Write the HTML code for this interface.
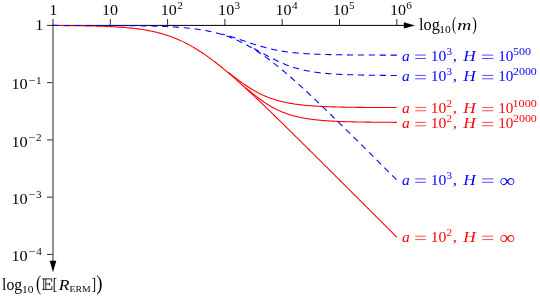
<!DOCTYPE html>
<html><head><meta charset="utf-8"><style>
html,body{margin:0;padding:0;background:#fff;}
body{width:540px;height:298px;overflow:hidden;position:relative;font-family:"Liberation Serif",serif;}
svg{position:absolute;left:0;top:0;}
text{font-family:"Liberation Serif",serif;}
</style></head><body>
<svg width="540" height="298" viewBox="0 0 540 298">
<rect x="52" y="19" width="2" height="243" fill="#929292"/>
<line x1="52" y1="25.4" x2="405" y2="25.4" stroke="#000" stroke-width="1"/>
<line x1="110.30" y1="19" x2="110.30" y2="25.4" stroke="#111" stroke-width="0.9"/><line x1="167.60" y1="19" x2="167.60" y2="25.4" stroke="#111" stroke-width="0.9"/><line x1="224.90" y1="19" x2="224.90" y2="25.4" stroke="#111" stroke-width="0.9"/><line x1="282.20" y1="19" x2="282.20" y2="25.4" stroke="#111" stroke-width="0.9"/><line x1="339.50" y1="19" x2="339.50" y2="25.4" stroke="#111" stroke-width="0.9"/><line x1="396.80" y1="19" x2="396.80" y2="25.4" stroke="#111" stroke-width="0.9"/><line x1="47.1" y1="25.40" x2="52.5" y2="25.40" stroke="#111" stroke-width="0.9"/><line x1="47.1" y1="82.65" x2="52.5" y2="82.65" stroke="#111" stroke-width="0.9"/><line x1="47.1" y1="139.90" x2="52.5" y2="139.90" stroke="#111" stroke-width="0.9"/><line x1="47.1" y1="197.15" x2="52.5" y2="197.15" stroke="#111" stroke-width="0.9"/><line x1="47.1" y1="254.40" x2="52.5" y2="254.40" stroke="#111" stroke-width="0.9"/>
<polygon points="403.8,22.299999999999997 415,25.4 403.8,28.5" fill="#000"/>
<polygon points="49.7,260.8 56.3,260.8 53,272.2" fill="#000"/>
<path d="M53.00 25.52 L54.57 25.53 L56.14 25.54 L57.71 25.55 L59.28 25.56 L60.85 25.57 L62.42 25.58 L63.99 25.59 L65.56 25.61 L67.13 25.62 L68.70 25.63 L70.27 25.65 L71.84 25.66 L73.41 25.68 L74.98 25.70 L76.55 25.72 L78.12 25.74 L79.69 25.76 L81.26 25.78 L82.83 25.81 L84.40 25.84 L85.97 25.86 L87.54 25.89 L89.11 25.92 L90.68 25.96 L92.25 25.99 L93.82 26.03 L95.39 26.07 L96.96 26.12 L98.53 26.16 L100.10 26.21 L101.67 26.26 L103.24 26.32 L104.81 26.38 L106.38 26.44 L107.95 26.51 L109.52 26.58 L111.08 26.65 L112.65 26.73 L114.22 26.81 L115.79 26.90 L117.36 27.00 L118.93 27.10 L120.50 27.21 L122.07 27.32 L123.64 27.44 L125.21 27.57 L126.78 27.70 L128.35 27.84 L129.92 27.99 L131.49 28.15 L133.06 28.32 L134.63 28.50 L136.20 28.69 L137.77 28.89 L139.34 29.10 L140.91 29.33 L142.48 29.56 L144.05 29.81 L145.62 30.07 L147.19 30.35 L148.76 30.64 L150.33 30.94 L151.90 31.27 L153.47 31.60 L155.04 31.96 L156.61 32.33 L158.18 32.72 L159.75 33.13 L161.32 33.56 L162.89 34.01 L164.46 34.48 L166.03 34.97 L167.60 35.48 L169.17 36.02 L170.74 36.57 L172.31 37.15 L173.88 37.75 L175.45 38.38 L177.02 39.03 L178.59 39.70 L180.16 40.40 L181.73 41.12 L183.30 41.87 L184.87 42.64 L186.44 43.44 L188.01 44.26 L189.58 45.11 L191.15 45.98 L192.72 46.87 L194.29 47.79 L195.86 48.74 L197.43 49.70 L199.00 50.69 L200.57 51.71 L202.14 52.74 L203.71 53.80 L205.28 54.88 L206.85 55.98 L208.42 57.10 L209.99 58.24 L211.56 59.40 L213.13 60.57 L214.70 61.77 L216.27 62.98 L217.84 64.22 L219.41 65.46 L220.98 66.73 L222.55 68.00 L224.12 69.30 L225.68 70.60 L227.25 71.92 L228.82 73.26 L230.39 74.60 L231.96 75.96 L233.53 77.33 L235.10 78.71 L236.67 80.10 L238.24 81.50 L239.81 82.91 L241.38 84.33 L242.95 85.75 L244.52 87.19 L246.09 88.63 L247.66 90.08 L249.23 91.53 L250.80 92.99 L252.37 94.46 L253.94 95.93 L255.51 97.41 L257.08 98.90 L258.65 100.39 L260.22 101.88 L261.79 103.38 L263.36 104.88 L264.93 106.39 L266.50 107.90 L268.07 109.41 L269.64 110.93 L271.21 112.45 L272.78 113.97 L274.35 115.50 L275.92 117.02 L277.49 118.55 L279.06 120.09 L280.63 121.62 L282.20 123.16 L283.77 124.70 L285.34 126.24 L286.91 127.78 L288.48 129.32 L290.05 130.87 L291.62 132.42 L293.19 133.96 L294.76 135.51 L296.33 137.06 L297.90 138.61 L299.47 140.17 L301.04 141.72 L302.61 143.27 L304.18 144.83 L305.75 146.39 L307.32 147.94 L308.89 149.50 L310.46 151.06 L312.03 152.62 L313.60 154.18 L315.17 155.74 L316.74 157.30 L318.31 158.86 L319.88 160.42 L321.45 161.98 L323.02 163.54 L324.59 165.11 L326.16 166.67 L327.73 168.23 L329.30 169.80 L330.87 171.36 L332.44 172.92 L334.01 174.49 L335.58 176.05 L337.15 177.62 L338.72 179.18 L340.28 180.75 L341.85 182.31 L343.42 183.88 L344.99 185.45 L346.56 187.01 L348.13 188.58 L349.70 190.14 L351.27 191.71 L352.84 193.28 L354.41 194.84 L355.98 196.41 L357.55 197.98 L359.12 199.54 L360.69 201.11 L362.26 202.68 L363.83 204.25 L365.40 205.81 L366.97 207.38 L368.54 208.95 L370.11 210.52 L371.68 212.08 L373.25 213.65 L374.82 215.22 L376.39 216.79 L377.96 218.35 L379.53 219.92 L381.10 221.49 L382.67 223.06 L384.24 224.63 L385.81 226.19 L387.38 227.76 L388.95 229.33 L390.52 230.90 L392.09 232.47 L393.66 234.03 L395.23 235.60 L396.80 237.17" fill="none" stroke="#ff0000" stroke-width="1.08"/><path d="M228.28 72.30 L229.05 72.90 L229.82 73.51 L230.59 74.11 L231.36 74.71 L232.13 75.31 L232.90 75.91 L233.67 76.50 L234.44 77.10 L235.21 77.69 L235.98 78.27 L236.75 78.86 L237.52 79.44 L238.29 80.01 L239.05 80.58 L239.82 81.15 L240.59 81.71 L241.36 82.27 L242.13 82.82 L242.90 83.37 L243.67 83.91 L244.44 84.44 L245.21 84.97 L245.98 85.49 L246.75 86.01 L247.52 86.52 L248.29 87.02 L249.06 87.52 L249.83 88.00 L250.60 88.48 L251.37 88.96 L252.14 89.42 L252.91 89.88 L253.67 90.33 L254.44 90.78 L255.21 91.21 L255.98 91.64 L256.75 92.06 L257.52 92.47 L258.29 92.87 L259.06 93.27 L259.83 93.65 L260.60 94.03 L261.37 94.40 L262.14 94.77 L262.91 95.12 L263.68 95.47 L264.45 95.81 L265.22 96.14 L265.99 96.46 L266.76 96.78 L267.53 97.09 L268.30 97.39 L269.06 97.68 L269.83 97.97 L270.60 98.25 L271.37 98.52 L272.14 98.79 L272.91 99.05 L273.68 99.30 L274.45 99.54 L275.22 99.78 L275.99 100.01 L276.76 100.24 L277.53 100.46 L278.30 100.67 L279.07 100.88 L279.84 101.08 L280.61 101.28 L281.38 101.47 L282.15 101.65 L282.92 101.83 L283.69 102.01 L284.45 102.18 L285.22 102.34 L285.99 102.50 L286.76 102.66 L287.53 102.81 L288.30 102.96 L289.07 103.10 L289.84 103.24 L290.61 103.37 L291.38 103.50 L292.15 103.63 L292.92 103.75 L293.69 103.87 L294.46 103.98 L295.23 104.10 L296.00 104.20 L296.77 104.31 L297.54 104.41 L298.31 104.51 L299.07 104.61 L299.84 104.70 L300.61 104.79 L301.38 104.88 L302.15 104.96 L302.92 105.04 L303.69 105.12 L304.46 105.20 L305.23 105.27 L306.00 105.35 L306.77 105.42 L307.54 105.48 L308.31 105.55 L309.08 105.61 L309.85 105.68 L310.62 105.74 L311.39 105.80 L312.16 105.85 L312.93 105.91 L313.70 105.96 L314.46 106.01 L315.23 106.06 L316.00 106.11 L316.77 106.16 L317.54 106.20 L318.31 106.25 L319.08 106.29 L319.85 106.33 L320.62 106.37 L321.39 106.41 L322.16 106.45 L322.93 106.48 L323.70 106.52 L324.47 106.55 L325.24 106.58 L326.01 106.62 L326.78 106.65 L327.55 106.68 L328.32 106.71 L329.08 106.74 L329.85 106.76 L330.62 106.79 L331.39 106.82 L332.16 106.84 L332.93 106.87 L333.70 106.89 L334.47 106.91 L335.24 106.93 L336.01 106.96 L336.78 106.98 L337.55 107.00 L338.32 107.02 L339.09 107.04 L339.86 107.05 L340.63 107.07 L341.40 107.09 L342.17 107.11 L342.94 107.12 L343.71 107.14 L344.47 107.15 L345.24 107.17 L346.01 107.18 L346.78 107.20 L347.55 107.21 L348.32 107.22 L349.09 107.23 L349.86 107.25 L350.63 107.26 L351.40 107.27 L352.17 107.28 L352.94 107.29 L353.71 107.30 L354.48 107.31 L355.25 107.32 L356.02 107.33 L356.79 107.34 L357.56 107.35 L358.33 107.36 L359.10 107.37 L359.86 107.38 L360.63 107.38 L361.40 107.39 L362.17 107.40 L362.94 107.41 L363.71 107.41 L364.48 107.42 L365.25 107.43 L366.02 107.43 L366.79 107.44 L367.56 107.44 L368.33 107.45 L369.10 107.46 L369.87 107.46 L370.64 107.47 L371.41 107.47 L372.18 107.48 L372.95 107.48 L373.72 107.49 L374.48 107.49 L375.25 107.50 L376.02 107.50 L376.79 107.50 L377.56 107.51 L378.33 107.51 L379.10 107.52 L379.87 107.52 L380.64 107.52 L381.41 107.53 L382.18 107.53 L382.95 107.53 L383.72 107.54 L384.49 107.54 L385.26 107.54 L386.03 107.54 L386.80 107.55 L387.57 107.55 L388.34 107.55 L389.11 107.56 L389.87 107.56 L390.64 107.56 L391.41 107.56 L392.18 107.56 L392.95 107.57 L393.72 107.57 L394.49 107.57 L395.26 107.57 L396.03 107.57 L396.80 107.58" fill="none" stroke="#ff0000" stroke-width="1.08"/><path d="M245.59 87.66 L246.28 88.25 L246.97 88.83 L247.66 89.42 L248.35 90.00 L249.04 90.57 L249.73 91.15 L250.43 91.72 L251.12 92.29 L251.81 92.85 L252.50 93.41 L253.19 93.97 L253.88 94.52 L254.57 95.07 L255.26 95.61 L255.95 96.15 L256.64 96.69 L257.33 97.22 L258.02 97.74 L258.71 98.26 L259.40 98.77 L260.09 99.28 L260.78 99.78 L261.47 100.28 L262.16 100.77 L262.85 101.25 L263.54 101.73 L264.23 102.20 L264.92 102.66 L265.62 103.12 L266.31 103.57 L267.00 104.01 L267.69 104.45 L268.38 104.88 L269.07 105.30 L269.76 105.72 L270.45 106.12 L271.14 106.53 L271.83 106.92 L272.52 107.31 L273.21 107.68 L273.90 108.06 L274.59 108.42 L275.28 108.78 L275.97 109.13 L276.66 109.47 L277.35 109.81 L278.04 110.14 L278.73 110.46 L279.42 110.78 L280.11 111.08 L280.80 111.38 L281.50 111.68 L282.19 111.97 L282.88 112.25 L283.57 112.52 L284.26 112.79 L284.95 113.05 L285.64 113.31 L286.33 113.56 L287.02 113.80 L287.71 114.04 L288.40 114.27 L289.09 114.49 L289.78 114.71 L290.47 114.93 L291.16 115.13 L291.85 115.34 L292.54 115.54 L293.23 115.73 L293.92 115.92 L294.61 116.10 L295.30 116.28 L295.99 116.45 L296.69 116.62 L297.38 116.78 L298.07 116.94 L298.76 117.09 L299.45 117.25 L300.14 117.39 L300.83 117.53 L301.52 117.67 L302.21 117.81 L302.90 117.94 L303.59 118.07 L304.28 118.19 L304.97 118.31 L305.66 118.43 L306.35 118.54 L307.04 118.65 L307.73 118.76 L308.42 118.86 L309.11 118.96 L309.80 119.06 L310.49 119.16 L311.18 119.25 L311.88 119.34 L312.57 119.43 L313.26 119.51 L313.95 119.60 L314.64 119.68 L315.33 119.76 L316.02 119.83 L316.71 119.91 L317.40 119.98 L318.09 120.05 L318.78 120.11 L319.47 120.18 L320.16 120.24 L320.85 120.31 L321.54 120.37 L322.23 120.42 L322.92 120.48 L323.61 120.54 L324.30 120.59 L324.99 120.64 L325.68 120.69 L326.37 120.74 L327.06 120.79 L327.76 120.84 L328.45 120.88 L329.14 120.93 L329.83 120.97 L330.52 121.01 L331.21 121.05 L331.90 121.09 L332.59 121.13 L333.28 121.16 L333.97 121.20 L334.66 121.23 L335.35 121.27 L336.04 121.30 L336.73 121.33 L337.42 121.36 L338.11 121.39 L338.80 121.42 L339.49 121.45 L340.18 121.48 L340.87 121.51 L341.56 121.53 L342.25 121.56 L342.95 121.58 L343.64 121.61 L344.33 121.63 L345.02 121.65 L345.71 121.67 L346.40 121.70 L347.09 121.72 L347.78 121.74 L348.47 121.76 L349.16 121.78 L349.85 121.79 L350.54 121.81 L351.23 121.83 L351.92 121.85 L352.61 121.86 L353.30 121.88 L353.99 121.90 L354.68 121.91 L355.37 121.93 L356.06 121.94 L356.75 121.95 L357.44 121.97 L358.13 121.98 L358.83 121.99 L359.52 122.01 L360.21 122.02 L360.90 122.03 L361.59 122.04 L362.28 122.05 L362.97 122.06 L363.66 122.07 L364.35 122.08 L365.04 122.09 L365.73 122.10 L366.42 122.11 L367.11 122.12 L367.80 122.13 L368.49 122.14 L369.18 122.15 L369.87 122.16 L370.56 122.16 L371.25 122.17 L371.94 122.18 L372.63 122.19 L373.32 122.19 L374.02 122.20 L374.71 122.21 L375.40 122.21 L376.09 122.22 L376.78 122.23 L377.47 122.23 L378.16 122.24 L378.85 122.24 L379.54 122.25 L380.23 122.26 L380.92 122.26 L381.61 122.27 L382.30 122.27 L382.99 122.28 L383.68 122.28 L384.37 122.28 L385.06 122.29 L385.75 122.29 L386.44 122.30 L387.13 122.30 L387.82 122.31 L388.51 122.31 L389.21 122.31 L389.90 122.32 L390.59 122.32 L391.28 122.32 L391.97 122.33 L392.66 122.33 L393.35 122.33 L394.04 122.34 L394.73 122.34 L395.42 122.34 L396.11 122.34 L396.80 122.35" fill="none" stroke="#ff0000" stroke-width="1.08"/><path d="M53.00 25.41 L54.57 25.41 L56.14 25.41 L57.71 25.42 L59.28 25.42 L60.85 25.42 L62.42 25.42 L63.99 25.42 L65.56 25.42 L67.13 25.42 L68.70 25.42 L70.27 25.42 L71.84 25.43 L73.41 25.43 L74.98 25.43 L76.55 25.43 L78.12 25.43 L79.69 25.44 L81.26 25.44 L82.83 25.44 L84.40 25.44 L85.97 25.45 L87.54 25.45 L89.11 25.45 L90.68 25.46 L92.25 25.46 L93.82 25.46 L95.39 25.47 L96.96 25.47 L98.53 25.48 L100.10 25.48 L101.67 25.49 L103.24 25.49 L104.81 25.50 L106.38 25.51 L107.95 25.51 L109.52 25.52 L111.08 25.53 L112.65 25.54 L114.22 25.55 L115.79 25.55 L117.36 25.56 L118.93 25.58 L120.50 25.59 L122.07 25.60 L123.64 25.61 L125.21 25.63 L126.78 25.64 L128.35 25.66 L129.92 25.67 L131.49 25.69 L133.06 25.71 L134.63 25.73 L136.20 25.75 L137.77 25.77 L139.34 25.80 L140.91 25.82 L142.48 25.85 L144.05 25.88 L145.62 25.91 L147.19 25.94 L148.76 25.98 L150.33 26.01 L151.90 26.05 L153.47 26.09 L155.04 26.14 L156.61 26.19 L158.18 26.24 L159.75 26.29 L161.32 26.35 L162.89 26.41 L164.46 26.47 L166.03 26.54 L167.60 26.61 L169.17 26.69 L170.74 26.77 L172.31 26.86 L173.88 26.95 L175.45 27.05 L177.02 27.15 L178.59 27.26 L180.16 27.38 L181.73 27.50 L183.30 27.63 L184.87 27.77 L186.44 27.92 L188.01 28.07 L189.58 28.24 L191.15 28.41 L192.72 28.60 L194.29 28.79 L195.86 29.00 L197.43 29.21 L199.00 29.44 L200.57 29.68 L202.14 29.94 L203.71 30.21 L205.28 30.49 L206.85 30.79 L208.42 31.10 L209.99 31.43 L211.56 31.78 L213.13 32.14 L214.70 32.52 L216.27 32.92 L217.84 33.34 L219.41 33.78 L220.98 34.24 L222.55 34.72 L224.12 35.22 L225.68 35.75 L227.25 36.29 L228.82 36.86 L230.39 37.45 L231.96 38.06 L233.53 38.70 L235.10 39.36 L236.67 40.05 L238.24 40.76 L239.81 41.49 L241.38 42.25 L242.95 43.04 L244.52 43.85 L246.09 44.68 L247.66 45.54 L249.23 46.42 L250.80 47.33 L252.37 48.26 L253.94 49.22 L255.51 50.20 L257.08 51.20 L258.65 52.22 L260.22 53.27 L261.79 54.33 L263.36 55.42 L264.93 56.53 L266.50 57.66 L268.07 58.81 L269.64 59.98 L271.21 61.17 L272.78 62.38 L274.35 63.60 L275.92 64.84 L277.49 66.09 L279.06 67.36 L280.63 68.65 L282.20 69.95 L283.77 71.26 L285.34 72.59 L286.91 73.93 L288.48 75.28 L290.05 76.64 L291.62 78.02 L293.19 79.40 L294.76 80.80 L296.33 82.20 L297.90 83.62 L299.47 85.04 L301.04 86.47 L302.61 87.91 L304.18 89.35 L305.75 90.80 L307.32 92.26 L308.89 93.73 L310.46 95.20 L312.03 96.67 L313.60 98.16 L315.17 99.64 L316.74 101.13 L318.31 102.63 L319.88 104.13 L321.45 105.63 L323.02 107.14 L324.59 108.65 L326.16 110.17 L327.73 111.69 L329.30 113.21 L330.87 114.73 L332.44 116.26 L334.01 117.79 L335.58 119.32 L337.15 120.85 L338.72 122.39 L340.28 123.93 L341.85 125.47 L343.42 127.01 L344.99 128.55 L346.56 130.10 L348.13 131.64 L349.70 133.19 L351.27 134.74 L352.84 136.29 L354.41 137.84 L355.98 139.39 L357.55 140.94 L359.12 142.50 L360.69 144.05 L362.26 145.61 L363.83 147.16 L365.40 148.72 L366.97 150.28 L368.54 151.84 L370.11 153.40 L371.68 154.96 L373.25 156.52 L374.82 158.08 L376.39 159.64 L377.96 161.20 L379.53 162.76 L381.10 164.32 L382.67 165.89 L384.24 167.45 L385.81 169.01 L387.38 170.58 L388.95 172.14 L390.52 173.71 L392.09 175.27 L393.66 176.84 L395.23 178.40 L396.80 179.97" fill="none" stroke="#0000ff" stroke-width="1.08" stroke-dasharray="6.23 4.67"/><path d="M396.80 55.13 L396.00 55.13 L395.20 55.13 L394.41 55.12 L393.61 55.12 L392.81 55.12 L392.01 55.12 L391.21 55.12 L390.41 55.12 L389.62 55.12 L388.82 55.11 L388.02 55.11 L387.22 55.11 L386.42 55.11 L385.62 55.11 L384.83 55.11 L384.03 55.10 L383.23 55.10 L382.43 55.10 L381.63 55.10 L380.83 55.10 L380.04 55.09 L379.24 55.09 L378.44 55.09 L377.64 55.09 L376.84 55.08 L376.04 55.08 L375.25 55.08 L374.45 55.08 L373.65 55.07 L372.85 55.07 L372.05 55.07 L371.26 55.06 L370.46 55.06 L369.66 55.06 L368.86 55.05 L368.06 55.05 L367.26 55.05 L366.47 55.04 L365.67 55.04 L364.87 55.03 L364.07 55.03 L363.27 55.03 L362.47 55.02 L361.68 55.02 L360.88 55.01 L360.08 55.01 L359.28 55.00 L358.48 55.00 L357.68 54.99 L356.89 54.99 L356.09 54.98 L355.29 54.97 L354.49 54.97 L353.69 54.96 L352.89 54.95 L352.10 54.95 L351.30 54.94 L350.50 54.93 L349.70 54.92 L348.90 54.92 L348.10 54.91 L347.31 54.90 L346.51 54.89 L345.71 54.88 L344.91 54.87 L344.11 54.86 L343.32 54.85 L342.52 54.84 L341.72 54.83 L340.92 54.82 L340.12 54.81 L339.32 54.80 L338.53 54.79 L337.73 54.77 L336.93 54.76 L336.13 54.75 L335.33 54.73 L334.53 54.72 L333.74 54.70 L332.94 54.69 L332.14 54.67 L331.34 54.65 L330.54 54.64 L329.74 54.62 L328.95 54.60 L328.15 54.58 L327.35 54.56 L326.55 54.54 L325.75 54.52 L324.95 54.50 L324.16 54.48 L323.36 54.45 L322.56 54.43 L321.76 54.40 L320.96 54.38 L320.17 54.35 L319.37 54.32 L318.57 54.30 L317.77 54.27 L316.97 54.24 L316.17 54.20 L315.38 54.17 L314.58 54.14 L313.78 54.10 L312.98 54.07 L312.18 54.03 L311.38 53.99 L310.59 53.95 L309.79 53.91 L308.99 53.86 L308.19 53.82 L307.39 53.77 L306.59 53.72 L305.80 53.68 L305.00 53.62 L304.20 53.57 L303.40 53.52 L302.60 53.46 L301.80 53.40 L301.01 53.34 L300.21 53.28 L299.41 53.21 L298.61 53.15 L297.81 53.08 L297.02 53.01 L296.22 52.93 L295.42 52.86 L294.62 52.78 L293.82 52.70 L293.02 52.61 L292.23 52.52 L291.43 52.43 L290.63 52.34 L289.83 52.25 L289.03 52.15 L288.23 52.05 L287.44 51.94 L286.64 51.83 L285.84 51.72 L285.04 51.61 L284.24 51.49 L283.44 51.37 L282.65 51.24 L281.85 51.11 L281.05 50.98 L280.25 50.84 L279.45 50.70 L278.65 50.56 L277.86 50.41 L277.06 50.26 L276.26 50.10 L275.46 49.95 L274.66 49.78 L273.86 49.61 L273.07 49.44 L272.27 49.27 L271.47 49.09 L270.67 48.90 L269.87 48.71 L269.08 48.52 L268.28 48.33 L267.48 48.13 L266.68 47.92 L265.88 47.71 L265.08 47.50 L264.29 47.29 L263.49 47.07 L262.69 46.85 L261.89 46.62 L261.09 46.39 L260.29 46.16 L259.50 45.92 L258.70 45.68 L257.90 45.44 L257.10 45.19 L256.30 44.95 L255.50 44.70 L254.71 44.44 L253.91 44.19 L253.11 43.93 L252.31 43.67 L251.51 43.41 L250.71 43.15 L249.92 42.88 L249.12 42.62 L248.32 42.35 L247.52 42.08 L246.72 41.81 L245.93 41.55 L245.13 41.28 L244.33 41.01 L243.53 40.74 L242.73 40.47 L241.93 40.20 L241.14 39.93 L240.34 39.66 L239.54 39.40 L238.74 39.13 L237.94 38.87 L237.14 38.60 L236.35 38.34 L235.55 38.08 L234.75 37.83 L233.95 37.57 L233.15 37.32 L232.35 37.06 L231.56 36.81 L230.76 36.57 L229.96 36.32 L229.16 36.08 L228.36 35.84 L227.56 35.61 L226.77 35.37 L225.97 35.14 L225.17 34.92 L224.37 34.69 L223.57 34.47 L222.78 34.26 L221.98 34.04" fill="none" stroke="#0000ff" stroke-width="1.08" stroke-dasharray="6.23 4.67"/><path d="M396.80 75.45 L396.13 75.45 L395.46 75.44 L394.80 75.44 L394.13 75.44 L393.46 75.43 L392.79 75.43 L392.12 75.42 L391.46 75.42 L390.79 75.42 L390.12 75.41 L389.45 75.41 L388.78 75.40 L388.12 75.40 L387.45 75.39 L386.78 75.39 L386.11 75.38 L385.45 75.38 L384.78 75.37 L384.11 75.37 L383.44 75.36 L382.77 75.36 L382.11 75.35 L381.44 75.35 L380.77 75.34 L380.10 75.33 L379.43 75.33 L378.77 75.32 L378.10 75.31 L377.43 75.31 L376.76 75.30 L376.09 75.29 L375.43 75.28 L374.76 75.28 L374.09 75.27 L373.42 75.26 L372.75 75.25 L372.09 75.24 L371.42 75.23 L370.75 75.22 L370.08 75.21 L369.41 75.20 L368.75 75.19 L368.08 75.18 L367.41 75.17 L366.74 75.16 L366.07 75.15 L365.41 75.14 L364.74 75.13 L364.07 75.12 L363.40 75.10 L362.74 75.09 L362.07 75.08 L361.40 75.06 L360.73 75.05 L360.06 75.03 L359.40 75.02 L358.73 75.00 L358.06 74.99 L357.39 74.97 L356.72 74.96 L356.06 74.94 L355.39 74.92 L354.72 74.90 L354.05 74.89 L353.38 74.87 L352.72 74.85 L352.05 74.83 L351.38 74.81 L350.71 74.78 L350.04 74.76 L349.38 74.74 L348.71 74.72 L348.04 74.69 L347.37 74.67 L346.70 74.64 L346.04 74.62 L345.37 74.59 L344.70 74.56 L344.03 74.54 L343.36 74.51 L342.70 74.48 L342.03 74.45 L341.36 74.42 L340.69 74.38 L340.03 74.35 L339.36 74.32 L338.69 74.28 L338.02 74.24 L337.35 74.21 L336.69 74.17 L336.02 74.13 L335.35 74.09 L334.68 74.05 L334.01 74.01 L333.35 73.96 L332.68 73.92 L332.01 73.87 L331.34 73.82 L330.67 73.77 L330.01 73.72 L329.34 73.67 L328.67 73.62 L328.00 73.56 L327.33 73.51 L326.67 73.45 L326.00 73.39 L325.33 73.33 L324.66 73.26 L323.99 73.20 L323.33 73.13 L322.66 73.06 L321.99 72.99 L321.32 72.92 L320.66 72.85 L319.99 72.77 L319.32 72.69 L318.65 72.61 L317.98 72.53 L317.32 72.44 L316.65 72.35 L315.98 72.26 L315.31 72.17 L314.64 72.07 L313.98 71.97 L313.31 71.87 L312.64 71.77 L311.97 71.66 L311.30 71.56 L310.64 71.44 L309.97 71.33 L309.30 71.21 L308.63 71.09 L307.96 70.96 L307.30 70.84 L306.63 70.71 L305.96 70.57 L305.29 70.43 L304.62 70.29 L303.96 70.15 L303.29 70.00 L302.62 69.85 L301.95 69.69 L301.28 69.53 L300.62 69.37 L299.95 69.20 L299.28 69.03 L298.61 68.85 L297.95 68.67 L297.28 68.49 L296.61 68.30 L295.94 68.10 L295.27 67.91 L294.61 67.71 L293.94 67.50 L293.27 67.29 L292.60 67.07 L291.93 66.86 L291.27 66.63 L290.60 66.40 L289.93 66.17 L289.26 65.93 L288.59 65.69 L287.93 65.44 L287.26 65.19 L286.59 64.94 L285.92 64.68 L285.25 64.41 L284.59 64.14 L283.92 63.87 L283.25 63.59 L282.58 63.31 L281.91 63.02 L281.25 62.73 L280.58 62.44 L279.91 62.14 L279.24 61.83 L278.58 61.52 L277.91 61.21 L277.24 60.90 L276.57 60.58 L275.90 60.26 L275.24 59.93 L274.57 59.60 L273.90 59.27 L273.23 58.93 L272.56 58.59 L271.90 58.25 L271.23 57.90 L270.56 57.56 L269.89 57.21 L269.22 56.85 L268.56 56.50 L267.89 56.14 L267.22 55.78 L266.55 55.42 L265.88 55.06 L265.22 54.70 L264.55 54.33 L263.88 53.96 L263.21 53.60 L262.54 53.23 L261.88 52.86 L261.21 52.49 L260.54 52.12 L259.87 51.75 L259.20 51.39 L258.54 51.02 L257.87 50.65 L257.20 50.28 L256.53 49.91 L255.87 49.55 L255.20 49.18 L254.53 48.82 L253.86 48.45 L253.19 48.09 L252.53 47.73 L251.86 47.37 L251.19 47.02 L250.52 46.66" fill="none" stroke="#0000ff" stroke-width="1.08" stroke-dasharray="6.23 4.67"/>
<g opacity="0.99"><text transform="translate(49.20,14.90) scale(1.040,1)" font-size="15.6" fill="#000">1</text><text transform="translate(101.91,14.90) scale(1.030,1)" font-size="15.6" fill="#000">10</text><text transform="translate(160.81,14.90) scale(1.030,1)" font-size="15.6" fill="#000">10</text><text transform="translate(177.15,9.20) scale(1.040,1)" font-size="10.8" fill="#000">2</text><text transform="translate(218.11,14.90) scale(1.030,1)" font-size="15.6" fill="#000">10</text><text transform="translate(234.45,9.20) scale(1.040,1)" font-size="10.8" fill="#000">3</text><text transform="translate(275.41,14.90) scale(1.030,1)" font-size="15.6" fill="#000">10</text><text transform="translate(292.09,9.20) scale(1.040,1)" font-size="10.8" fill="#000">4</text><text transform="translate(332.71,14.90) scale(1.030,1)" font-size="15.6" fill="#000">10</text><text transform="translate(348.94,9.20) scale(1.040,1)" font-size="10.8" fill="#000">5</text><text transform="translate(390.01,14.90) scale(1.030,1)" font-size="15.6" fill="#000">10</text><text transform="translate(406.35,9.20) scale(1.040,1)" font-size="10.8" fill="#000">6</text><text transform="translate(35.20,30.20) scale(1.040,1)" font-size="15.6" fill="#000">1</text><text transform="translate(11.40,89.25) scale(1.044,1)" font-size="15.6" fill="#000">10</text><text transform="translate(28.34,83.65) scale(1.160,1)" font-size="10.8" fill="#000">−</text><text transform="translate(36.00,83.65) scale(1.040,1)" font-size="10.8" fill="#000">1</text><text transform="translate(11.40,146.50) scale(1.044,1)" font-size="15.6" fill="#000">10</text><text transform="translate(28.34,140.90) scale(1.160,1)" font-size="10.8" fill="#000">−</text><text transform="translate(35.95,140.90) scale(1.040,1)" font-size="10.8" fill="#000">2</text><text transform="translate(11.40,203.75) scale(1.044,1)" font-size="15.6" fill="#000">10</text><text transform="translate(28.34,198.15) scale(1.160,1)" font-size="10.8" fill="#000">−</text><text transform="translate(35.95,198.15) scale(1.040,1)" font-size="10.8" fill="#000">3</text><text transform="translate(11.40,261.00) scale(1.044,1)" font-size="15.6" fill="#000">10</text><text transform="translate(28.34,255.40) scale(1.160,1)" font-size="10.8" fill="#000">−</text><text transform="translate(36.29,255.40) scale(1.040,1)" font-size="10.8" fill="#000">4</text><text transform="translate(419.07,29.60) scale(0.991,1)" font-size="16.5" fill="#000">log</text><text transform="translate(439.28,32.80) scale(1.061,1)" font-size="10.8" fill="#000">10</text><text transform="translate(451.90,30.20) scale(0.670,1)" font-size="18.8" fill="#000">(</text><text transform="translate(457.13,29.60) scale(1.250,1)" font-size="15.6" fill="#000" font-style="italic">m</text><text transform="translate(472.18,30.20) scale(0.736,1)" font-size="18.8" fill="#000">)</text><text transform="translate(2.09,289.50) scale(0.952,1)" font-size="16.5" fill="#000">log</text><text transform="translate(22.08,292.90) scale(1.061,1)" font-size="10.8" fill="#000">10</text><text transform="translate(35.98,290.30) scale(0.778,1)" font-size="20" fill="#000">(</text><text transform="translate(52.79,289.60) scale(0.791,1)" font-size="16.5" fill="#000">[</text><text transform="translate(58.78,289.50) scale(1.124,1)" font-size="15.6" fill="#000" font-style="italic">R</text><text transform="translate(69.60,291.90) scale(1.303,1)" font-size="7.5" fill="#000">ERM</text><text transform="translate(91.81,289.60) scale(0.791,1)" font-size="16.5" fill="#000">]</text><text transform="translate(96.23,290.30) scale(0.942,1)" font-size="20" fill="#000">)</text><text transform="translate(401.99,60.70) scale(0.997,1)" font-size="15.6" fill="#0000ff" font-style="italic">a</text><text transform="translate(430.74,60.70) scale(1.008,1)" font-size="15.6" fill="#0000ff">10</text><text transform="translate(446.45,55.10) scale(1.040,1)" font-size="10.8" fill="#0000ff">3</text><text transform="translate(452.79,60.70) scale(1.082,1)" font-size="15.6" fill="#0000ff">,</text><text transform="translate(463.35,60.70) scale(1.112,1)" font-size="15.6" fill="#0000ff" font-style="italic">H</text><text transform="translate(498.29,60.70) scale(0.972,1)" font-size="15.6" fill="#0000ff">10</text><text transform="translate(512.90,55.10) scale(1.115,1)" font-size="10.8" fill="#0000ff">500</text><text transform="translate(401.99,81.00) scale(0.997,1)" font-size="15.6" fill="#0000ff" font-style="italic">a</text><text transform="translate(430.74,81.00) scale(1.008,1)" font-size="15.6" fill="#0000ff">10</text><text transform="translate(446.45,75.40) scale(1.040,1)" font-size="10.8" fill="#0000ff">3</text><text transform="translate(452.79,81.00) scale(1.082,1)" font-size="15.6" fill="#0000ff">,</text><text transform="translate(463.35,81.00) scale(1.112,1)" font-size="15.6" fill="#0000ff" font-style="italic">H</text><text transform="translate(498.29,81.00) scale(0.972,1)" font-size="15.6" fill="#0000ff">10</text><text transform="translate(513.02,75.40) scale(1.103,1)" font-size="10.8" fill="#0000ff">2000</text><text transform="translate(401.99,184.50) scale(0.997,1)" font-size="15.6" fill="#0000ff" font-style="italic">a</text><text transform="translate(430.74,184.50) scale(1.008,1)" font-size="15.6" fill="#0000ff">10</text><text transform="translate(446.45,178.90) scale(1.040,1)" font-size="10.8" fill="#0000ff">3</text><text transform="translate(452.79,184.50) scale(1.082,1)" font-size="15.6" fill="#0000ff">,</text><text transform="translate(463.35,184.50) scale(1.112,1)" font-size="15.6" fill="#0000ff" font-style="italic">H</text><text transform="translate(499.23,186.50) scale(1.160,1)" font-size="19" fill="#0000ff">∞</text><text transform="translate(401.99,113.00) scale(0.997,1)" font-size="15.6" fill="#ff0000" font-style="italic">a</text><text transform="translate(430.74,113.00) scale(1.008,1)" font-size="15.6" fill="#ff0000">10</text><text transform="translate(446.45,107.40) scale(1.040,1)" font-size="10.8" fill="#ff0000">2</text><text transform="translate(452.79,113.00) scale(1.082,1)" font-size="15.6" fill="#ff0000">,</text><text transform="translate(463.35,113.00) scale(1.112,1)" font-size="15.6" fill="#ff0000" font-style="italic">H</text><text transform="translate(498.29,113.00) scale(0.972,1)" font-size="15.6" fill="#ff0000">10</text><text transform="translate(512.53,107.40) scale(1.127,1)" font-size="10.8" fill="#ff0000">1000</text><text transform="translate(401.99,128.00) scale(0.997,1)" font-size="15.6" fill="#ff0000" font-style="italic">a</text><text transform="translate(430.74,128.00) scale(1.008,1)" font-size="15.6" fill="#ff0000">10</text><text transform="translate(446.45,122.40) scale(1.040,1)" font-size="10.8" fill="#ff0000">2</text><text transform="translate(452.79,128.00) scale(1.082,1)" font-size="15.6" fill="#ff0000">,</text><text transform="translate(463.35,128.00) scale(1.112,1)" font-size="15.6" fill="#ff0000" font-style="italic">H</text><text transform="translate(498.29,128.00) scale(0.972,1)" font-size="15.6" fill="#ff0000">10</text><text transform="translate(513.02,122.40) scale(1.103,1)" font-size="10.8" fill="#ff0000">2000</text><text transform="translate(401.99,241.80) scale(0.997,1)" font-size="15.6" fill="#ff0000" font-style="italic">a</text><text transform="translate(430.74,241.80) scale(1.008,1)" font-size="15.6" fill="#ff0000">10</text><text transform="translate(446.45,236.20) scale(1.040,1)" font-size="10.8" fill="#ff0000">2</text><text transform="translate(452.79,241.80) scale(1.082,1)" font-size="15.6" fill="#ff0000">,</text><text transform="translate(463.35,241.80) scale(1.112,1)" font-size="15.6" fill="#ff0000" font-style="italic">H</text><text transform="translate(499.23,243.80) scale(1.160,1)" font-size="19" fill="#ff0000">∞</text><line x1="415.2" y1="58.50" x2="425.9" y2="58.50" stroke="#0000ff" stroke-width="0.7"/><line x1="415.2" y1="55.10" x2="425.9" y2="55.10" stroke="#0000ff" stroke-width="0.7"/><line x1="482.1" y1="58.50" x2="493.3" y2="58.50" stroke="#0000ff" stroke-width="0.7"/><line x1="482.1" y1="55.10" x2="493.3" y2="55.10" stroke="#0000ff" stroke-width="0.7"/><line x1="415.2" y1="78.80" x2="425.9" y2="78.80" stroke="#0000ff" stroke-width="0.7"/><line x1="415.2" y1="75.40" x2="425.9" y2="75.40" stroke="#0000ff" stroke-width="0.7"/><line x1="482.1" y1="78.80" x2="493.3" y2="78.80" stroke="#0000ff" stroke-width="0.7"/><line x1="482.1" y1="75.40" x2="493.3" y2="75.40" stroke="#0000ff" stroke-width="0.7"/><line x1="415.2" y1="182.30" x2="425.9" y2="182.30" stroke="#0000ff" stroke-width="0.7"/><line x1="415.2" y1="178.90" x2="425.9" y2="178.90" stroke="#0000ff" stroke-width="0.7"/><line x1="482.1" y1="182.30" x2="493.3" y2="182.30" stroke="#0000ff" stroke-width="0.7"/><line x1="482.1" y1="178.90" x2="493.3" y2="178.90" stroke="#0000ff" stroke-width="0.7"/><line x1="415.2" y1="110.80" x2="425.9" y2="110.80" stroke="#ff0000" stroke-width="0.7"/><line x1="415.2" y1="107.40" x2="425.9" y2="107.40" stroke="#ff0000" stroke-width="0.7"/><line x1="482.1" y1="110.80" x2="493.3" y2="110.80" stroke="#ff0000" stroke-width="0.7"/><line x1="482.1" y1="107.40" x2="493.3" y2="107.40" stroke="#ff0000" stroke-width="0.7"/><line x1="415.2" y1="125.80" x2="425.9" y2="125.80" stroke="#ff0000" stroke-width="0.7"/><line x1="415.2" y1="122.40" x2="425.9" y2="122.40" stroke="#ff0000" stroke-width="0.7"/><line x1="482.1" y1="125.80" x2="493.3" y2="125.80" stroke="#ff0000" stroke-width="0.7"/><line x1="482.1" y1="122.40" x2="493.3" y2="122.40" stroke="#ff0000" stroke-width="0.7"/><line x1="415.2" y1="239.60" x2="425.9" y2="239.60" stroke="#ff0000" stroke-width="0.7"/><line x1="415.2" y1="236.20" x2="425.9" y2="236.20" stroke="#ff0000" stroke-width="0.7"/><line x1="482.1" y1="239.60" x2="493.3" y2="239.60" stroke="#ff0000" stroke-width="0.7"/><line x1="482.1" y1="236.20" x2="493.3" y2="236.20" stroke="#ff0000" stroke-width="0.7"/></g>
<g fill="none" stroke="#000" stroke-width="0.85"><path d="M43.7 278.9V289.4M45.8 278.9V289.4M42.2 278.9H52M42.2 289.4H52.2M45.8 284.1H49.6"/><path d="M51.7 278.9V282M51.9 289.4V286M49.6 282.6V285.6" stroke-width="0.8"/></g>
</svg>
</body></html>
